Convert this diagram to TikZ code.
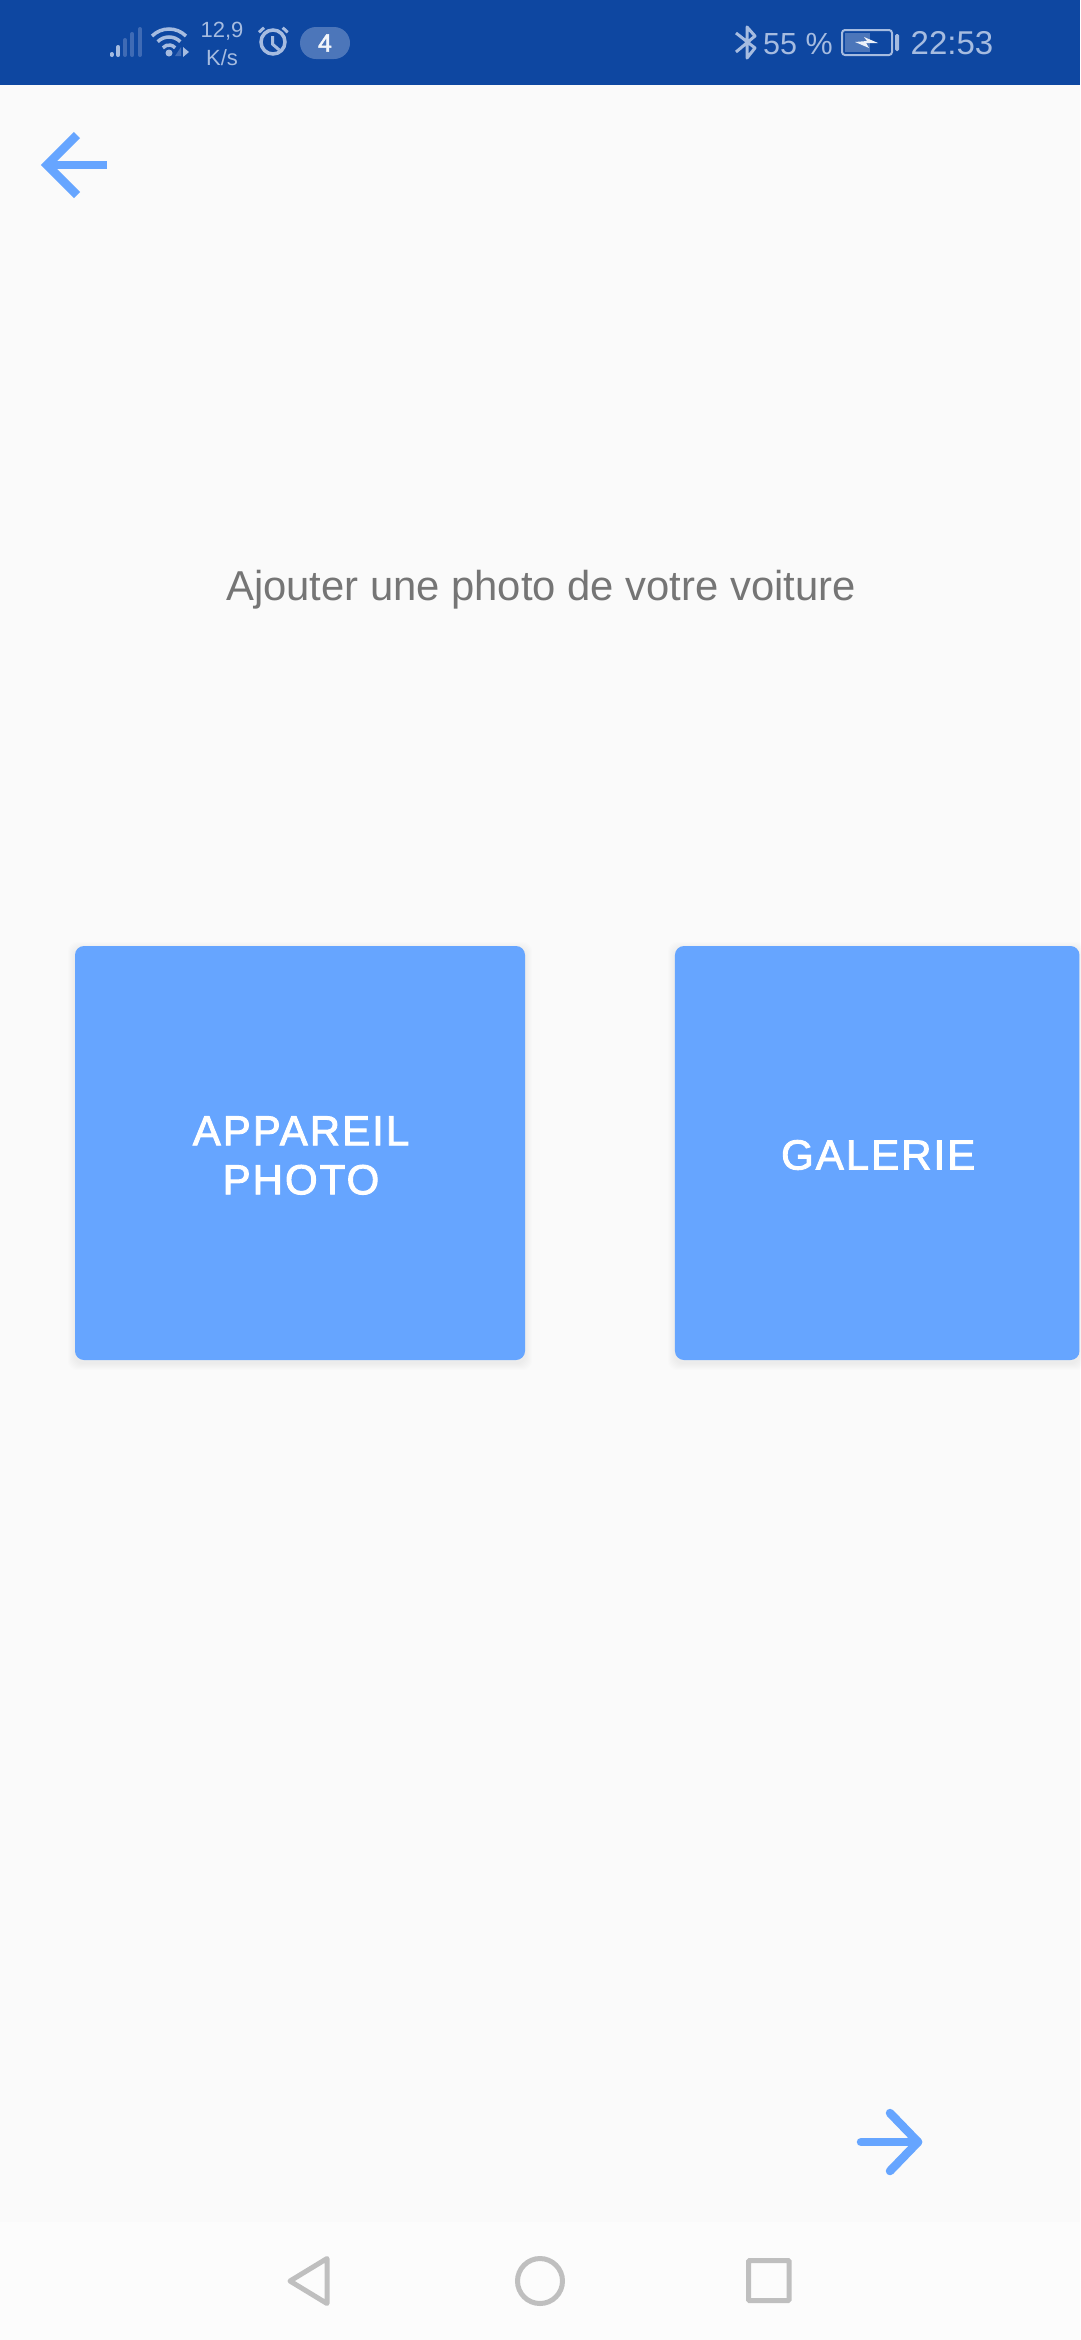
\documentclass[tikz,border=0pt]{standalone}
\usepackage{fontspec}
\setmainfont{Liberation Sans}
\newfontfamily\btnfont[FakeBold=2.2,LetterSpace=4.8]{Liberation Sans}
\definecolor{pagebg}{HTML}{FAFAFA}
\definecolor{navbg}{HTML}{FCFCFC}
\definecolor{barbg}{HTML}{0E47A1}
\definecolor{barfg}{HTML}{A6BCE0}
\definecolor{bardim}{HTML}{3F6BB5}
\definecolor{pillbg}{HTML}{4C76BA}
\definecolor{btnblue}{HTML}{66A5FF}
\definecolor{titlegray}{HTML}{757575}
\definecolor{navgray}{HTML}{BFBFBF}
\tikzset{
    btnbox/.style={fill=btnblue, rounded corners=9pt, inner sep=0pt},
    btnlabel/.style={text=white, inner sep=0pt, align=center, font=\btnfont\fontsize{42}{49}\selectfont},
    bartext/.style={text=barfg, inner sep=0pt, anchor=base},
    arrowline/.style={draw=btnblue, line width=8.5pt},
    navicon/.style={draw=navgray, line width=5pt}
}
\begin{document}
\begin{tikzpicture}[x=1pt,y=-1pt]
    \useasboundingbox (0,0) rectangle (1080,2340);
    \fill[pagebg] (0,0) rectangle (1080,2340);
    \fill[navbg] (0,2222) rectangle (1080,2340);
    \fill[barbg] (0,0) rectangle (1080,85);

    \foreach \x/\ytop/\col in {111.5/52/barfg, 118.3/45/barfg, 125/38/bardim, 132.3/32/bardim, 140/27/bardim}
        \draw[\col, line width=4pt, line cap=round] (\x,\ytop+2) -- (\x,55);
    \foreach \r/\a in {24/45, 16/45, 8/50}
        \draw[barfg, line width=3.5pt] (169,53) ++(-90-\a:\r) arc[start angle=-90-\a, end angle=-90+\a, radius=\r];
    \fill[barfg] (169,53) circle (3.5);
    \fill[bardim] (181,47) -- (181,56) -- (175,56) -- cycle;
    \fill[barfg] (183,47) -- (189,52) -- (183,57) -- cycle;
    \node[bartext, font=\fontsize{22}{22}\selectfont] (speedval) at (222,37) {12,9};
    \node[bartext, font=\fontsize{22}{22}\selectfont] (speedunit) at (222,65) {K/s};
    \draw[barfg, line width=3.5pt] (273,42) circle (12);
    \draw[barfg, line width=3pt] (272.7,36) -- (272.7,44.3) -- (279.3,50);
    \draw[barfg, line width=3pt] (259,32.3) -- (264,27.7) (282.7,27.7) -- (287.7,32.3);
    \node[fill=pillbg, rounded corners=16pt, minimum width=50pt, minimum height=32pt, inner sep=0pt,
        text=white!85!barfg, font=\btnfont\fontsize{25}{25}\selectfont] (alarmcount) at (325,43) {4};

    \draw[barfg, line width=3pt, line join=round] (736,33) -- (755,48) -- (747,58) -- (747,27) -- (755,36) -- (736,52);
    \node[bartext, anchor=base west, font=\fontsize{30.5}{32}\selectfont] (battext) at (763,54.3) {55 \%};
    \draw[barfg, line width=2pt, rounded corners=3pt] (842,30) rectangle (892,55);
    \fill[pillbg] (845,33) rectangle (870,52);
    \fill[white!80!barfg] (855,42) -- (867,41) -- (864,37) -- (878,43) -- (866,43) -- (869,48) -- cycle;
    \fill[barfg, rounded corners=1.5pt] (895,34) rectangle (899,51);
    \node[bartext, anchor=base west, font=\fontsize{33}{33}\selectfont] (clock) at (910.5,54.3) {22:53};

    \draw[arrowline, line cap=butt] (77,135) -- (47,165) -- (77,195);
    \draw[arrowline, line cap=butt] (47,165) -- (107,165);

    \node[text=titlegray, inner sep=0pt, anchor=base, font=\fontsize{41.8}{42}\selectfont] (title) at (541,600) {Ajouter une photo de votre voiture};

    \foreach \k in {1,...,7} {
        \fill[black, opacity=0.009, rounded corners=9pt] (75-\k,946-\k+3) rectangle (525+\k,1360+\k+3);
        \fill[black, opacity=0.009, rounded corners=9pt] (675-\k,946-\k+3) rectangle (1079+\k,1360+\k+3);
    }
    \node[btnbox, minimum width=450pt, minimum height=414pt] (camerabtn) at (300,1153) {};
    \node[btnbox, minimum width=404.5pt, minimum height=414pt] (gallerybtn) at (877.2,1153) {};
    \node[btnlabel, xshift=1pt, yshift=-2.5pt] (cameratext) at (camerabtn.center) {APPAREIL\\PHOTO};
    \node[btnlabel, xshift=1pt, yshift=-2pt] (gallerytext) at (gallerybtn.center) {GALERIE};

    \draw[arrowline, line cap=round, line join=round] (890,2113) -- (918,2142) -- (890,2171);
    \draw[arrowline, line cap=round] (861,2142) -- (918,2142);

    \draw[navicon, line join=round] (290,2281) -- (327,2258.5) -- (327,2303.5) -- cycle;
    \draw[navicon] (540,2281) circle (22.5);
    \draw[navicon, rounded corners=1pt] (748.5,2260.5) rectangle (789,2300.5);
\end{tikzpicture}
\end{document}
